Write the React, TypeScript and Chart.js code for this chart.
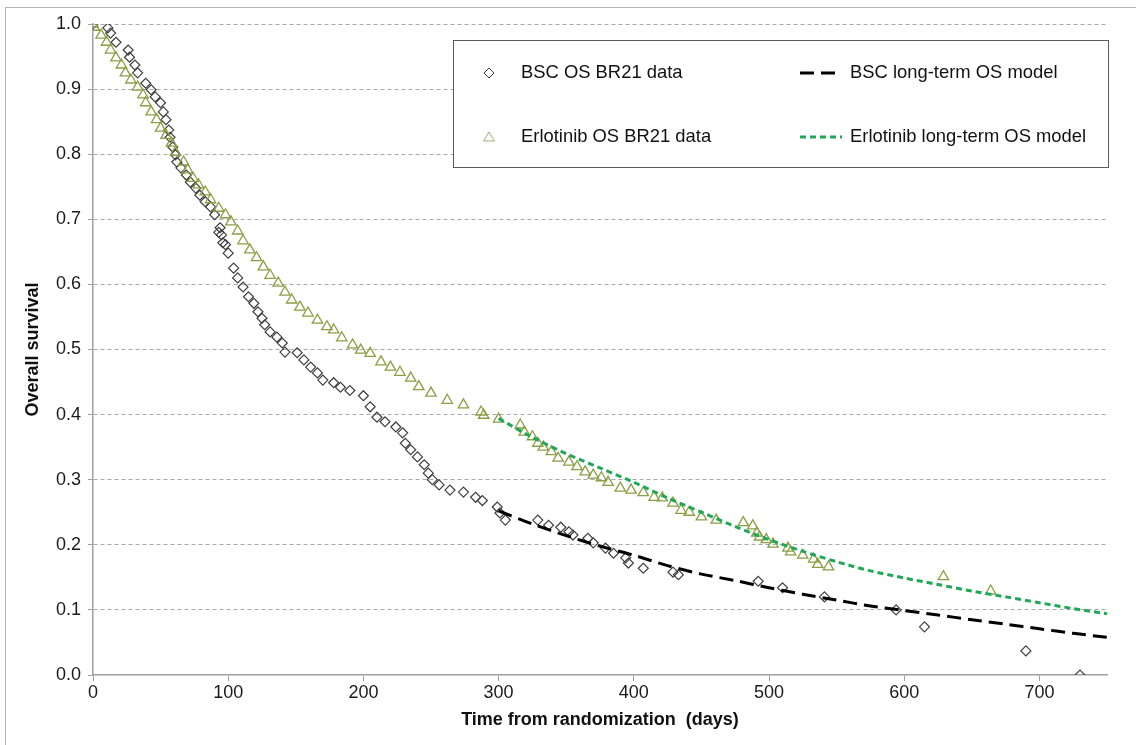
import React, { useEffect, useRef } from "react";
import { Chart, registerables } from "chart.js";

Chart.register(...registerables);

// ---- data ----
const bscDays = [
  0, 11, 13, 17, 26, 27, 31, 33, 39, 43, 46, 50, 52, 54, 56, 57, 59, 61, 62, 65,
  69, 72, 76, 79, 83, 87, 90, 93, 94, 95, 96, 98, 100, 104, 107, 111, 115, 119, 122, 125,
  127, 131, 136, 140, 142, 151, 156, 161, 166, 170, 178, 183, 190, 200, 205, 210, 216, 224, 229, 231,
  235, 240, 245, 248, 251, 256, 264, 274, 283, 288, 299, 301, 305, 329, 337, 346, 352, 355, 366, 370,
  379, 385, 394, 396, 407, 429, 433, 492, 510, 541, 594, 615, 690, 730,
];
const bscSurv = [
  1.0, 0.994, 0.986, 0.972, 0.96, 0.949, 0.937, 0.925, 0.909, 0.899, 0.888, 0.879, 0.865, 0.853, 0.837, 0.826, 0.811, 0.799, 0.788, 0.779,
  0.768, 0.757, 0.748, 0.737, 0.727, 0.719, 0.707, 0.68, 0.687, 0.676, 0.664, 0.661, 0.648, 0.625, 0.61, 0.596, 0.581, 0.571, 0.558, 0.548,
  0.538, 0.527, 0.519, 0.51, 0.496, 0.495, 0.484, 0.473, 0.464, 0.453, 0.449, 0.442, 0.437, 0.429, 0.412, 0.396, 0.389, 0.381, 0.372, 0.356,
  0.346, 0.335, 0.323, 0.31, 0.3, 0.292, 0.284, 0.281, 0.273, 0.268, 0.258, 0.249, 0.238, 0.238, 0.23, 0.227, 0.22, 0.215, 0.21, 0.203,
  0.195, 0.187, 0.18, 0.172, 0.164, 0.158, 0.154, 0.144, 0.134, 0.12, 0.1, 0.074, 0.037, 0.0,
];

const erlDays = [
  0, 1, 6, 10, 13, 17, 21, 24, 28, 33, 37, 39, 43, 47, 50, 54, 58, 61, 67, 70,
  74, 78, 83, 87, 93, 98, 102, 107, 111, 116, 121, 126, 131, 137, 142, 147, 153, 159, 166, 173,
  178, 184, 192, 198, 205, 213, 220, 227, 235, 241, 250, 262, 274, 287, 289, 300, 316, 319, 325, 329,
  333, 339, 344, 352, 358, 364, 370, 376, 381, 390, 398, 407, 415, 421, 429, 435, 441, 450, 461, 481,
  488, 491, 493, 498, 503, 514, 516, 525, 533, 536, 544, 629, 664,
];
const erlSurv = [
  1.0, 0.995, 0.983, 0.972, 0.96, 0.948, 0.937, 0.925, 0.914, 0.903, 0.891, 0.879, 0.865, 0.853, 0.84, 0.829, 0.817, 0.803, 0.788, 0.776,
  0.763, 0.753, 0.742, 0.73, 0.717, 0.707, 0.696, 0.682, 0.667, 0.653, 0.641, 0.627, 0.614, 0.602, 0.588, 0.576, 0.565, 0.556, 0.545, 0.535,
  0.53, 0.518, 0.507, 0.499, 0.494, 0.481, 0.473, 0.465, 0.456, 0.443, 0.433, 0.422, 0.415, 0.404, 0.399, 0.393, 0.384, 0.373, 0.366, 0.356,
  0.35, 0.343, 0.333, 0.327, 0.32, 0.312, 0.307, 0.303, 0.296, 0.287, 0.284, 0.28, 0.273, 0.272, 0.264, 0.253, 0.25, 0.243, 0.238, 0.234,
  0.229, 0.218, 0.212, 0.208, 0.201, 0.195, 0.189, 0.184, 0.178, 0.17, 0.166, 0.151, 0.129,
];

const modelDays = [300, 325, 350, 375, 400, 425, 450, 475, 500, 525, 550, 575, 600, 625, 650, 675, 700, 725, 750];
const bscModel = [0.252, 0.232, 0.214, 0.198, 0.184, 0.168, 0.155, 0.145, 0.134, 0.124, 0.115, 0.106, 0.099, 0.092, 0.085, 0.078, 0.071, 0.064, 0.058];
const erlModel = [0.394, 0.365, 0.34, 0.318, 0.296, 0.272, 0.25, 0.228, 0.208, 0.19, 0.174, 0.16, 0.149, 0.139, 0.129, 0.12, 0.111, 0.102, 0.094];

const xTicks = [0, 100, 200, 300, 400, 500, 600, 700];
const legendLabels = [
  "BSC OS BR21 data",
  "Erlotinib OS BR21 data",
  "BSC long-term OS model",
  "Erlotinib long-term OS model",
];

const FONT = '"Liberation Sans", Arial, sans-serif';
const DIAMOND_COLOR = "#404040";
const TRI_COLOR = "#8a9f44";
const GREEN = "#1fa855";

const toPts = (xs: number[], ys: number[]) => xs.map((x, i) => ({ x, y: ys[i] }));

const frame = {
  id: "frame",
  beforeDraw(chart: any) {
    const ctx = chart.ctx;
    ctx.save();
    ctx.strokeStyle = "#b5b5b5";
    ctx.lineWidth = 1;
    ctx.strokeRect(5.5, 7.5, 1140, 750);
    ctx.restore();
  },
};

const legendBox = {
  id: "legendBox",
  afterDraw(chart: any) {
    const ctx = chart.ctx;
    ctx.save();
    const x0 = 453, y0 = 40, w = 655, h = 127;
    ctx.fillStyle = "#fff";
    ctx.fillRect(x0, y0, w, h);
    ctx.strokeStyle = "#5a5a5a";
    ctx.lineWidth = 1;
    ctx.strokeRect(x0 + 0.5, y0 + 0.5, w, h);
    const r1 = 73, r2 = 137;
    // diamond
    ctx.strokeStyle = DIAMOND_COLOR;
    ctx.beginPath();
    ctx.moveTo(489 - 5, r1);
    ctx.lineTo(489, r1 - 5);
    ctx.lineTo(489 + 5, r1);
    ctx.lineTo(489, r1 + 5);
    ctx.closePath();
    ctx.stroke();
    // triangle
    ctx.strokeStyle = "#a9a87a";
    ctx.beginPath();
    ctx.moveTo(489, r2 - 5);
    ctx.lineTo(489 + 5.5, r2 + 4);
    ctx.lineTo(489 - 5.5, r2 + 4);
    ctx.closePath();
    ctx.stroke();
    // lines
    ctx.lineWidth = 3;
    ctx.strokeStyle = "#000";
    ctx.setLineDash([14, 7]);
    ctx.beginPath();
    ctx.moveTo(800, r1);
    ctx.lineTo(842, r1);
    ctx.stroke();
    ctx.strokeStyle = GREEN;
    ctx.setLineDash([6, 4]);
    ctx.beginPath();
    ctx.moveTo(800, r2);
    ctx.lineTo(842, r2);
    ctx.stroke();
    ctx.setLineDash([]);
    ctx.fillStyle = "#111";
    ctx.font = `18.4px ${FONT}`;
    ctx.textBaseline = "middle";
    ctx.textAlign = "left";
    ctx.fillText(legendLabels[0], 521, r1);
    ctx.fillText(legendLabels[1], 521, r2);
    ctx.fillText(legendLabels[2], 850, r1);
    ctx.fillText(legendLabels[3], 850, r2);
    ctx.restore();
  },
};

export default function App() {
  const ref = useRef<HTMLCanvasElement>(null);
  useEffect(() => {
    document.body.style.margin = "0";
    const chart = new Chart(ref.current as HTMLCanvasElement, {
      type: "line",
      data: {
        datasets: [
          {
            label: legendLabels[2],
            data: toPts(modelDays, bscModel),
            borderColor: "#000",
            borderWidth: 3,
            borderDash: [14, 7],
            pointRadius: 0,
            fill: false,
            tension: 0.3,
            order: 0,
          },
          {
            label: legendLabels[3],
            data: toPts(modelDays, erlModel),
            borderColor: GREEN,
            borderWidth: 3,
            borderDash: [6, 4],
            pointRadius: 0,
            fill: false,
            tension: 0.3,
            order: 0,
          },
          {
            label: legendLabels[0],
            data: toPts(bscDays, bscSurv),
            showLine: false,
            pointStyle: "rectRot",
            pointRadius: 5,
            pointBorderWidth: 1.2,
            pointBorderColor: DIAMOND_COLOR,
            pointBackgroundColor: "rgba(255,255,255,0)",
            order: 2,
          },
          {
            label: legendLabels[1],
            data: toPts(erlDays, erlSurv),
            showLine: false,
            pointStyle: "triangle",
            pointRadius: 6,
            pointBorderWidth: 1.3,
            pointBorderColor: TRI_COLOR,
            pointBackgroundColor: "rgba(255,255,255,0)",
            order: 1,
          },
        ],
      },
      options: {
        animation: false,
        responsive: true,
        maintainAspectRatio: false,
        layout: { padding: { left: 15, top: 24, right: 29, bottom: 10 } },
        plugins: { legend: { display: false }, tooltip: { enabled: false } },
        scales: {
          x: {
            type: "linear",
            min: 0,
            max: 750,
            afterFit: (s: any) => {
              s.height = 60;
            },
            afterBuildTicks: (s: any) => {
              s.ticks = xTicks.map((v) => ({ value: v }));
            },
            ticks: {
              font: { family: FONT, size: 18 },
              color: "#1a1a1a",
              padding: 1,
              maxRotation: 0,
            },
            grid: {
              drawOnChartArea: false,
              drawTicks: true,
              tickLength: 6,
              tickColor: "#a0a0a0",
              color: "#a0a0a0",
            },
            border: { color: "#a0a0a0", width: 1.5 },
            title: {
              display: true,
              text: "Time from randomization  (days)",
              font: { family: FONT, size: 18, weight: "bold" },
              color: "#111",
              padding: { top: 0, bottom: 4 },
            },
          },
          y: {
            min: 0,
            max: 1,
            afterFit: (s: any) => {
              s.width = 78;
            },
            ticks: {
              stepSize: 0.1,
              font: { family: FONT, size: 18 },
              color: "#1a1a1a",
              padding: 7,
              callback: (v: any) => Number(v).toFixed(1),
            },
            grid: {
              color: (c: any) => (c.tick && c.tick.value === 0 ? "rgba(0,0,0,0)" : "#a8a8a8"),
              lineWidth: 1,
              drawTicks: true,
              tickLength: 5,
              tickColor: "#a0a0a0",
              tickBorderDash: [],
            },
            border: { color: "#a0a0a0", width: 1.5, dash: [4, 3] },
            title: {
              display: true,
              text: "Overall survival",
              font: { family: FONT, size: 18, weight: "bold" },
              color: "#111",
              padding: { top: 7, bottom: 4 },
            },
          },
        },
      },
      plugins: [frame, legendBox],
    } as any);
    return () => chart.destroy();
  }, []);
  return (
    <div style={{ position: "relative", width: 1136, height: 745, background: "#fff" }}>
      <canvas ref={ref} />
    </div>
  );
}
